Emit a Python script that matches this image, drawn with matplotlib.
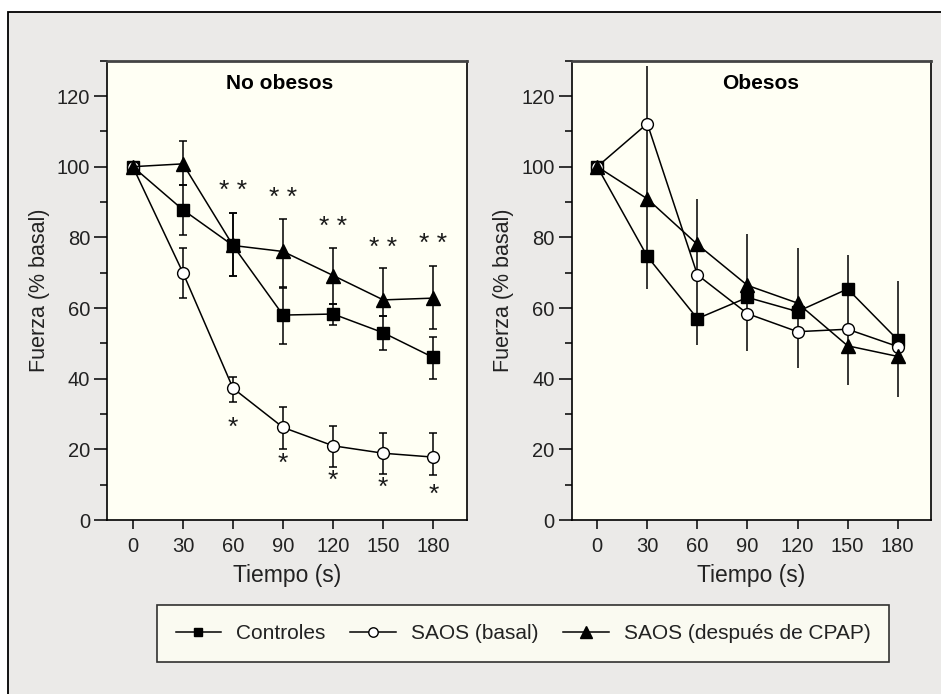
import matplotlib
matplotlib.use("Agg")
import matplotlib.pyplot as plt
from matplotlib.patches import Rectangle
from matplotlib.lines import Line2D
from matplotlib.ticker import MultipleLocator

plt.rcParams['font.family'] = ['Liberation Sans', 'DejaVu Sans']
plt.rcParams['text.color'] = '#1a1a1a'

tiempo = [0, 30, 60, 90, 120, 150, 180]

# No obesos
ctrl_no = [100, 87.8, 77.7, 58.0, 58.3, 53.0, 46.0]
ctrl_no_lo = [100, 80.7, 69.0, 49.9, 55.2, 48.0, 40.0]
ctrl_no_hi = [100, 94.9, 87.0, 65.8, 61.0, 57.8, 51.8]
basal_no = [100, 70.0, 37.3, 26.2, 21.0, 18.9, 17.8]
basal_no_lo = [100, 62.8, 33.3, 20.2, 14.9, 12.9, 12.6]
basal_no_hi = [100, 76.9, 40.6, 32.0, 26.7, 24.7, 24.5]
cpap_no = [100, 100.8, 77.7, 76.0, 69.2, 62.3, 62.8]
cpap_no_lo = [100, 94.9, 69.0, 66.0, 61.0, 57.8, 54.0]
cpap_no_hi = [100, 107.2, 87.0, 85.3, 77.0, 71.2, 71.9]

# significance marks (No obesos)
sig2_x = [60, 90, 120, 150, 180]
sig2_y = [93, 91.2, 83, 77, 78]
sig1_x = [60, 90, 120, 150, 180]
sig1_y = [26, 15.9, 11, 9, 7]

# Obesos
ctrl_ob = [100, 74.6, 57.0, 63.0, 59.0, 65.4, 51.0]
basal_ob = [100, 112.2, 69.4, 58.4, 53.3, 54.0, 49.1]
cpap_ob = [100, 90.9, 78.0, 66.4, 61.4, 49.3, 46.3]
ob_lo = [100, 65.4, 49.6, 47.9, 43.1, 38.2, 34.8]
ob_hi = [100, 128.4, 90.9, 81.0, 77.0, 75.0, 67.7]

nombres = ['Controles', 'SAOS (basal)', 'SAOS (después de CPAP)']

W, H = 941, 694
fig = plt.figure(figsize=(W / 100, H / 100), dpi=100)
fig.patch.set_facecolor('white')

# grey frame
fig.add_artist(Rectangle((8.3 / W, -0.05), 1.2, 1 - 11.7 / H + 0.05,
                         transform=fig.transFigure, facecolor='#ebeae8',
                         edgecolor='black', lw=1.3, zorder=-5))

face = '#fffff4'
ax1 = fig.add_axes([107.3 / W, 1 - 520 / H, 359.4 / W, 459.3 / H])
ax2 = fig.add_axes([571.7 / W, 1 - 520 / H, 359.4 / W, 459.3 / H])

estilos = [dict(marker='s', mfc='black', mec='black', ms=8),
           dict(marker='o', mfc='white', mec='black', ms=8.5),
           dict(marker='^', mfc='black', mec='black', ms=10)]


def setup(ax, titulo, tx):
    ax.set_facecolor(face)
    ax.set_xlim(-15.3, 200)
    ax.set_ylim(0, 130)
    ax.set_xticks(tiempo)
    ax.yaxis.set_major_locator(MultipleLocator(20))
    ax.yaxis.set_minor_locator(MultipleLocator(10))
    ax.tick_params(axis='y', which='major', length=9.4, width=1.1, pad=3,
                   labelsize=14.5, labelcolor='#222222')
    ax.tick_params(axis='y', which='minor', length=5, width=1.1)
    ax.tick_params(axis='x', length=6.5, width=1.1, pad=6,
                   labelsize=14.5, labelcolor='#222222')
    for s in ['left', 'bottom', 'right']:
        ax.spines[s].set_linewidth(1.2)
    ax.spines['top'].set_linewidth(2)
    ax.spines['top'].set_color('#444444')
    ax.set_xlabel('Tiempo (s)', fontsize=16.5, color='#222222')
    ax.set_ylabel('Fuerza (% basal)', fontsize=15.5, color='#222222')
    ax.xaxis.set_label_coords(0.5, -0.095)
    ax.yaxis.set_label_coords(-0.16, 0.5)
    ax.text(tx, 0.951, titulo, transform=ax.transAxes, ha='center',
            va='center', fontsize=15, fontweight='bold', color='black')


setup(ax1, 'No obesos', 0.48)
setup(ax2, 'Obesos', 0.525)

# left panel
series_no = [(ctrl_no, ctrl_no_lo, ctrl_no_hi),
             (basal_no, basal_no_lo, basal_no_hi),
             (cpap_no, cpap_no_lo, cpap_no_hi)]
for (y, lo, hi), st in zip(series_no, estilos):
    err = [[a - b for a, b in zip(y, lo)], [b - a for a, b in zip(y, hi)]]
    ax1.errorbar(tiempo[1:], y[1:], yerr=[err[0][1:], err[1][1:]], fmt='none',
                 ecolor='black', elinewidth=1.1, capsize=3, capthick=1.1,
                 zorder=2)
    ax1.plot(tiempo, y, color='black', lw=1.1, zorder=3, **st)

for x, y in zip(sig2_x, sig2_y):
    ax1.text(x, y, '* *', ha='center', va='center', fontsize=19)
for x, y in zip(sig1_x, sig1_y):
    ax1.text(x, y, '*', ha='center', va='center', fontsize=19)

# right panel
ax2.vlines(tiempo[1:], ob_lo[1:], ob_hi[1:], color='black', lw=1.1, zorder=2)
for y, st in zip([ctrl_ob, basal_ob, cpap_ob], estilos):
    ax2.plot(tiempo, y, color='black', lw=1.1, zorder=3, **st)

handles = []
for st in estilos:
    h = dict(st)
    h['ms'] = h['ms'] * 0.8
    handles.append(Line2D([], [], color='black', lw=1.1, **h))

leg = fig.legend(handles, nombres, ncol=3, loc='center',
                 bbox_to_anchor=(523 / W, 1 - 633.5 / H), fontsize=15,
                 frameon=True, fancybox=False, handlelength=2.2,
                 handletextpad=0.7, columnspacing=1.2, borderpad=0.9,
                 borderaxespad=0)
for t in leg.get_texts():
    t.set_color('#222222')
leg.get_frame().set_edgecolor('black')
leg.get_frame().set_facecolor(face)
leg.get_frame().set_linewidth(1.2)

fig.savefig('out.png', dpi=100)
